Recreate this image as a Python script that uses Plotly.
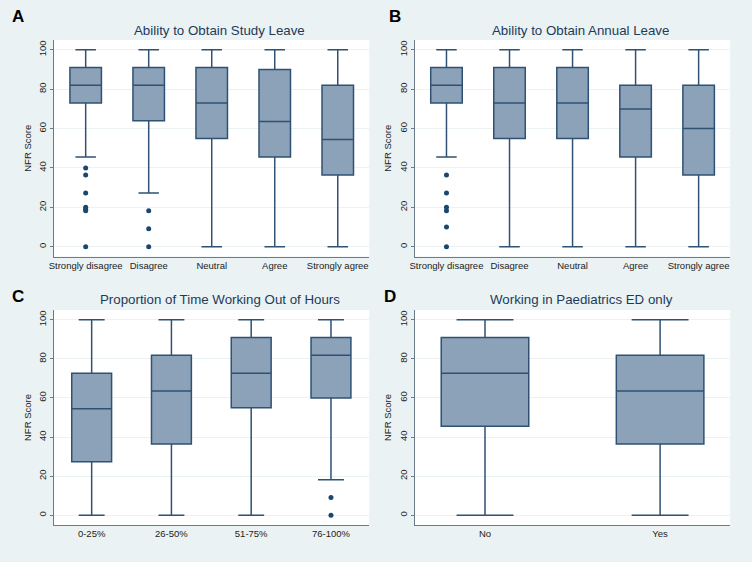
import plotly.graph_objects as go

# ---------------- data ----------------
likert_cats = ["Strongly disagree", "Disagree", "Neutral", "Agree", "Strongly agree"]

# Panel A: Ability to Obtain Study Leave
a_lower = [45.5, 27.3, 0, 0, 0]
a_q1 = [73, 64, 55, 45.5, 36.4]
a_median = [82, 82, 73, 63.6, 54.5]
a_q3 = [91, 91, 91, 90, 82]
a_upper = [100, 100, 100, 100, 100]
a_out_cat = ["Strongly disagree"] * 7 + ["Disagree"] * 3
a_out_val = [40, 36.4, 27.3, 20, 19, 18.2, 0, 18.2, 9.1, 0]

# Panel B: Ability to Obtain Annual Leave
b_lower = [45.5, 0, 0, 0, 0]
b_q1 = [73, 55, 55, 45.5, 36.4]
b_median = [82, 73, 73, 70, 60]
b_q3 = [91, 91, 91, 82, 82]
b_upper = [100, 100, 100, 100, 100]
b_out_cat = ["Strongly disagree"] * 6
b_out_val = [36.4, 27.3, 20, 18.2, 10, 0]

# Panel C: Proportion of Time Working Out of Hours
c_cats = ["0-25%", "26-50%", "51-75%", "76-100%"]
c_lower = [0, 0, 0, 18.2]
c_q1 = [27.3, 36.4, 55, 60]
c_median = [54.5, 63.6, 72.7, 81.8]
c_q3 = [72.7, 81.8, 90.9, 90.9]
c_upper = [100, 100, 100, 100]
c_out_cat = ["76-100%", "76-100%"]
c_out_val = [9.1, 0]

# Panel D: Working in Paediatrics ED only
d_cats = ["No", "Yes"]
d_lower = [0, 0]
d_q1 = [45.5, 36.4]
d_median = [72.7, 63.6]
d_q3 = [90.9, 81.8]
d_upper = [100, 100]

titles = ["Ability to Obtain Study Leave", "Ability to Obtain Annual Leave",
          "Proportion of Time Working Out of Hours", "Working in Paediatrics ED only"]
panel_letters = ["A", "B", "C", "D"]
y_ticks = [0, 20, 40, 60, 80, 100]

# ---------------- style ----------------
BG = "#EAF2F3"
BOX_FILL = "#8CA2B8"
BOX_LINE = "#2F5173"
DOT = "#1A476F"
W, H = 752, 562

fig = go.Figure()

panels = [
    dict(cats=likert_cats, lo=a_lower, q1=a_q1, me=a_median, q3=a_q3, up=a_upper,
         oc=a_out_cat, ov=a_out_val, xr=[-0.5, 4.5]),
    dict(cats=likert_cats, lo=b_lower, q1=b_q1, me=b_median, q3=b_q3, up=b_upper,
         oc=b_out_cat, ov=b_out_val, xr=[-0.5, 4.5]),
    dict(cats=c_cats, lo=c_lower, q1=c_q1, me=c_median, q3=c_q3, up=c_upper,
         oc=c_out_cat, ov=c_out_val, xr=[-0.47, 3.48]),
    dict(cats=d_cats, lo=d_lower, q1=d_q1, me=d_median, q3=d_q3, up=d_upper,
         oc=[], ov=[], xr=[-0.4, 1.4]),
]

# pixel geometry of plot areas (left, right, top, bottom)
boxes_px = [
    (49.5, 366.7, 40, 256.5),
    (412.7, 730, 40, 256.5),
    (49.5, 366.7, 310, 525),
    (412.7, 730, 310, 525),
]
title_px = [(216, 31), (579, 31), (216, 300), (580, 300)]
letter_px = [(5, 16), (385, 16), (5, 296), (380, 296)]

layout_axes = {}
annotations = []
for i, p in enumerate(panels):
    n = i + 1
    xa = "x" if n == 1 else f"x{n}"
    ya = "y" if n == 1 else f"y{n}"
    fig.add_trace(go.Box(
        x=p["cats"], q1=p["q1"], median=p["me"], q3=p["q3"],
        lowerfence=p["lo"], upperfence=p["up"],
        boxpoints=False, width=0.5, whiskerwidth=0.65,
        fillcolor=BOX_FILL, line=dict(color=BOX_LINE, width=1.5),
        xaxis=xa, yaxis=ya, showlegend=False, hoverinfo="skip"))
    if p["oc"]:
        fig.add_trace(go.Scatter(
            x=p["oc"], y=p["ov"], mode="markers",
            marker=dict(color=DOT, size=5),
            xaxis=xa, yaxis=ya, showlegend=False, hoverinfo="skip"))
    l, r, t, b = boxes_px[i]
    layout_axes["xaxis" if n == 1 else f"xaxis{n}"] = dict(
        domain=[l / W, r / W], anchor=ya, type="category",
        categoryorder="array", categoryarray=p["cats"],
        range=p["xr"], showgrid=False, zeroline=False,
        showline=True, linecolor="#6B7B8A", linewidth=1,
        ticks="", tickfont=dict(family="Liberation Sans, Arial", size=9.5, color="#222"),
        fixedrange=True)
    layout_axes["yaxis" if n == 1 else f"yaxis{n}"] = dict(
        domain=[1 - b / H, 1 - t / H], anchor=xa, range=[-5, 105],
        tickvals=y_ticks, tickangle=-90, showgrid=True, gridcolor=BG, gridwidth=1,
        zeroline=False, showline=True, linecolor="#6B7B8A", linewidth=1,
        ticks="outside", ticklen=3, tickcolor="#6B7B8A",
        tickfont=dict(family="Liberation Sans, Arial", size=9.5, color="#222"),
        title=dict(text="NFR Score", standoff=4,
                   font=dict(family="Liberation Sans, Arial", size=9.5, color="#222")),
        fixedrange=True)
    tx, ty = title_px[i]
    annotations.append(dict(
        text=titles[i], x=tx / W, y=1 - ty / H, xref="paper", yref="paper",
        xanchor="center", yanchor="middle", showarrow=False,
        font=dict(family="Liberation Sans, Arial", size=13.3, color="#1E3A5A")))
    lx, ly = letter_px[i]
    annotations.append(dict(
        text="<b>" + panel_letters[i] + "</b>", x=lx / W, y=1 - ly / H,
        xref="paper", yref="paper", xanchor="left", yanchor="middle",
        showarrow=False,
        font=dict(family="Liberation Sans, Arial", size=17, color="#000")))

fig.update_layout(
    width=W, height=H, margin=dict(l=0, r=0, t=0, b=0),
    paper_bgcolor=BG, plot_bgcolor="white",
    annotations=annotations, showlegend=False,
    **layout_axes)

fig.write_html("out.html", config={"displayModeBar": False},
               post_script="document.body.style.margin='0';document.body.style.background='" + BG + "';")
